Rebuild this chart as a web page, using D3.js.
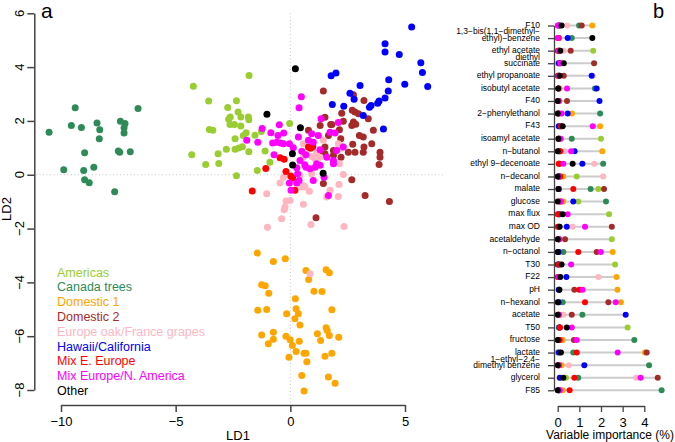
<!DOCTYPE html>
<html><head><meta charset="utf-8">
<script src="https://cdn.jsdelivr.net/npm/d3@7"></script>
<style>
body{margin:0;background:#fff;}
svg{display:block;font-family:"Liberation Sans",Arial,Helvetica,sans-serif;}
</style></head>
<body>
<svg id="chart" width="675" height="442"></svg>
<script>
// ---------- DATA ----------
const groups = ["Americas","Canada trees","Domestic 1","Domestic 2","Europe oak/France grapes","Hawaii/California","Mix E. Europe","Mix Europe/N. America","Other"];
const groupColors = ["#9ACD32","#2E8B57","#FFA500","#A52A2A","#FFB6C1","#0000FF","#FF0000","#FF00FF","#000000"];

const americas = [[-4.23,3.29],[-1.80,3.69],[-3.56,2.74],[-2.35,2.75],[-2.73,2.50],[-2.28,2.33],[-2.62,2.15],[-2.69,2.06],[-2.16,2.15],[-1.83,2.15],[-1.81,2.04],[-2.63,1.87],[-2.44,1.87],[-2.16,1.81],[-3.53,1.68],[-3.38,1.65],[-1.93,1.56],[-2.05,1.46],[-1.54,1.47],[-1.26,1.61],[-2.41,1.34],[-0.03,1.90],[-2.79,0.95],[-2.41,0.95],[-2.25,0.99],[-2.09,1.04],[-1.81,0.85],[-1.10,0.88],[-3.15,0.78],[-4.30,0.74],[-3.69,0.38],[-3.12,0.42],[-0.89,0.46],[-1.44,0.16],[-2.35,-0.04]];
const canada = [[-10.52,1.58],[-9.38,2.49],[-9.55,1.83],[-9.11,1.76],[-8.43,1.92],[-8.31,1.67],[-8.33,1.34],[-8.97,0.82],[-9.88,0.19],[-9.01,0.16],[-8.57,0.28],[-8.97,-0.19],[-8.77,-0.30],[-7.66,-0.63],[-7.41,1.99],[-7.21,1.90],[-7.25,1.75],[-7.25,1.55],[-7.50,0.88],[-7.44,0.84],[-6.98,0.85],[-6.64,2.46]];
const domestic1 = [[-1.44,-2.91],[-0.74,-3.22],[-0.22,-3.12],[0.68,-3.56],[0.80,-3.89],[-1.25,-4.09],[-1.10,-4.13],[-0.94,-4.40],[1.03,-4.33],[1.38,-4.34],[0.22,-4.61],[0.25,-4.98],[0.35,-5.17],[0.20,-5.35],[-0.16,-5.17],[-1.42,-5.04],[-1.03,-5.01],[0.42,-5.58],[-1.25,-5.96],[-0.74,-5.85],[-0.74,-6.11],[-0.96,-6.28],[-0.19,-6.00],[-0.01,-6.13],[0.09,-6.35],[0.39,-6.19],[0.25,-6.57],[0.60,-6.63],[0.68,-6.63],[0.72,-6.95],[-0.06,-6.78],[0.50,-7.46],[0.60,-8.04],[1.18,-5.91],[1.32,-6.16],[1.56,-5.69],[1.61,-5.79],[1.70,-5.97],[1.51,-6.75],[1.81,-6.63],[1.66,-7.52],[1.95,-7.75],[2.11,-6.04],[1.81,-5.02],[1.56,-3.53],[1.70,-3.64]];
const domestic2 = [[1.44,3.11],[2.75,2.97],[3.21,2.76],[2.24,2.29],[2.82,2.33],[2.97,2.27],[2.70,2.40],[2.31,1.99],[2.75,1.96],[2.68,1.83],[2.85,1.88],[3.40,2.08],[1.81,1.87],[0.79,1.65],[1.30,1.83],[3.62,1.65],[2.14,1.67],[3.01,1.46],[3.18,1.40],[2.20,1.34],[2.72,1.13],[3.21,1.03],[2.24,1.03],[1.88,0.72],[2.21,0.65],[2.53,0.84],[2.82,0.84],[3.18,0.84],[3.91,0.84],[3.91,0.65],[3.87,0.38],[1.51,0.78],[1.26,0.78],[2.68,-0.19],[1.44,-0.33],[3.26,-0.77],[4.32,-0.99],[1.12,-1.60],[1.51,2.14],[1.66,1.46],[1.51,1.03],[1.76,1.87],[3.55,1.15],[1.88,0.90]];
const europe = [[-1.03,-0.71],[-0.45,-0.31],[-0.19,-0.98],[-0.01,-0.96],[-0.27,-1.30],[-0.23,-1.20],[-0.38,-1.64],[0.57,-1.10],[0.90,-1.85],[-1.00,-1.95],[2.34,-1.92],[2.12,-0.36],[2.09,-0.81],[2.31,0.01],[0.83,-0.61],[0.64,-0.46],[0.50,-0.46],[-0.30,-0.09],[1.73,-0.58],[0.86,-3.68],[1.44,1.28],[0.93,0.68],[1.08,0.59],[1.30,0.65],[0.57,1.15],[1.15,0.84],[2.09,1.15],[0.57,-0.40],[1.59,-0.83],[2.14,0.41],[0.57,0.65],[0.93,0.04],[0.42,-0.03],[2.17,0.97]];
const hawaii = [[5.29,5.49],[4.13,4.87],[4.13,4.56],[4.75,4.47],[5.69,4.16],[5.76,3.80],[5.99,3.28],[4.29,3.53],[4.99,3.36],[4.27,3.11],[4.13,2.85],[3.87,2.74],[3.81,2.66],[3.52,2.57],[3.45,2.51],[3.04,3.32],[2.60,3.03],[2.78,2.81],[2.33,2.55],[1.83,2.61],[1.99,3.78],[1.78,3.68],[3.18,2.20],[4.06,1.70]];
const mixEEurope = [[-1.07,0.23],[-1.66,-0.60],[-0.45,0.63],[-0.27,0.58],[-0.19,0.12],[0.02,-0.05],[0.10,-0.12],[0.20,-0.58],[0.79,1.03],[0.98,1.05],[0.88,0.98]];
const mixEuropeNA = [[0.48,2.90],[0.38,2.49],[-1.23,1.72],[-1.90,1.28],[-1.42,1.21],[-0.85,1.56],[-0.48,1.86],[-0.29,1.55],[-0.54,1.46],[-0.77,1.18],[-0.42,1.18],[-0.04,1.15],[0.13,1.00],[0.35,1.40],[-0.71,0.74],[0.50,0.87],[0.68,0.74],[1.00,1.21],[1.34,2.08],[1.30,0.93],[0.63,0.37],[0.86,0.22],[1.15,0.41],[1.00,-0.21],[-0.04,-0.31],[0.03,-0.58],[0.38,-0.21],[1.66,-0.77],[1.88,0.41],[2.02,0.90],[1.95,1.55],[1.73,1.58],[2.09,1.94],[0.93,1.52],[1.22,1.46],[0.79,1.28],[1.59,0.65],[1.88,0.53],[1.30,0.35],[0.68,0.28],[1.08,0.28],[2.31,1.03],[0.32,0.04],[0.28,-0.31],[1.47,-0.09],[-0.59,1.21],[0.42,0.53],[0.28,0.26],[-0.30,1.15]];
const other = [[0.22,3.94],[-1.02,2.25],[0.44,1.75],[0.09,0.78],[0.10,0.36],[1.43,0.06]];
const scatterSeries = [americas,canada,domestic1,domestic2,europe,hawaii,mixEEurope,mixEuropeNA,other];

const ld1Ticks = [-10,-5,0,5];
const ld2Ticks = [-8,-6,-4,-2,0,2,4,6];

const variables = ["F10","1,3\u2212bis(1,1\u2212dimethyl\u2212\nethyl)\u2212benzene","ethyl acetate","diethyl\nsuccinate","ethyl propanoate","isobutyl acetate","F40","2\u2212phenylethanol","F43","isoamyl acetate","n\u2212butanol","ethyl 9\u2212decenoate","n\u2212decanol","malate","glucose","max flux","max OD","acetaldehyde","n\u2212octanol","T30","F22","pH","n\u2212hexanol","acetate","T50","fructose","lactate","1\u2212ethyl\u22122,4\u2212\ndimethyl benzene","glycerol","F85"];
// importance (%) per group, one value per variable (same order as variables)
const impAmericas  = [0.05,0.05,1.64,0.10,0.05,0.05,0.05,0.05,0.05,2.00,0.05,0.05,0.88,1.88,0.95,2.37,0.05,2.50,0.05,2.65,0.05,0.05,0.05,0.05,3.23,0.05,0.00,0.05,0.38,0.05];
const impCanada    = [0.99,0.65,0.08,0.05,0.05,1.72,0.05,1.96,0.10,0.65,0.05,2.10,0.05,1.52,2.23,0.05,0.05,0.05,0.26,0.05,0.05,0.05,0.23,1.14,0.05,3.54,0.72,4.22,0.95,4.80];
const impDomestic1 = [1.60,0.05,0.05,0.05,0.05,0.08,0.08,0.66,1.96,0.05,2.06,0.05,0.26,0.05,0.26,0.05,0.05,0.05,2.54,0.05,2.72,2.76,2.92,0.10,0.10,0.23,4.03,0.18,0.08,0.23];
const impDomestic2 = [1.11,0.05,0.60,1.68,0.28,0.05,0.43,0.05,0.15,0.08,0.10,0.10,0.10,2.14,0.10,0.10,2.50,0.34,1.80,0.05,0.05,0.77,2.34,0.65,0.10,0.75,4.11,0.05,4.62,0.05];
const impEurope    = [0.43,0.03,0.27,0.00,1.62,0.05,0.05,0.10,0.08,0.05,0.32,1.69,2.10,0.05,0.10,0.05,0.69,0.05,0.05,0.05,1.88,1.05,0.05,0.26,0.10,0.10,0.10,0.51,3.62,0.10];
const impHawaii    = [0.08,0.46,0.05,0.05,1.57,1.80,1.93,0.46,0.05,0.05,0.78,1.14,0.05,0.05,0.72,0.05,0.42,0.05,0.05,0.00,0.40,0.05,0.05,3.14,0.08,0.05,0.05,1.23,0.10,0.05];
const impMixE      = [0.05,0.03,0.00,0.15,0.00,0.03,0.03,0.03,0.15,0.05,0.12,0.05,0.12,0.72,0.12,0.00,0.00,0.05,0.95,0.05,0.00,1.00,1.26,0.05,0.10,0.10,0.88,0.05,0.77,0.55];
const impMixNA     = [0.00,0.00,0.05,0.11,0.05,0.43,0.05,0.18,1.62,0.14,0.62,0.26,0.05,0.05,0.15,0.46,1.26,0.05,1.99,0.62,0.05,1.15,2.68,0.05,0.65,0.88,2.77,0.05,3.83,0.10];
const impOther     = [0.18,1.60,0.12,0.28,0.09,0.02,0.00,0.00,0.23,0.03,0.00,0.69,0.00,0.03,0.00,0.23,0.09,0.00,0.00,0.18,0.12,0.08,0.00,0.00,0.42,0.00,0.15,0.00,0.26,0.00];
const importanceSeries = [impAmericas,impCanada,impDomestic1,impDomestic2,impEurope,impHawaii,impMixE,impMixNA,impOther];
const impTicks = [0,1,2,3,4];

// ---------- DRAW ----------
const svg = d3.select("#chart");
const axisCol = "#444";

// Panel a
const x = d3.scaleLinear().domain([-10,5]).range([61,405]);
const y = d3.scaleLinear().domain([-8,6]).range([390,13.3]);

// reference lines
svg.append("line").attr("x1",36).attr("x2",443).attr("y1",y(0)).attr("y2",y(0))
  .attr("stroke","#c8c8c8").attr("stroke-width",1).attr("stroke-dasharray","1,2.5");
svg.append("line").attr("x1",x(0)).attr("x2",x(0)).attr("y1",13).attr("y2",403)
  .attr("stroke","#c8c8c8").attr("stroke-width",1).attr("stroke-dasharray","1,2.5");

// points
scatterSeries.forEach((pts,gi)=>{
  svg.append("g").selectAll("circle").data(pts).join("circle")
    .attr("cx",d=>x(d[0])).attr("cy",d=>y(d[1])).attr("r",3.5)
    .attr("fill",groupColors[gi]);
});

// x axis
const gx = svg.append("g").attr("transform","translate(0,405)")
  .call(d3.axisBottom(x).tickValues(ld1Ticks).tickSize(7).tickSizeOuter(0).tickPadding(5));
gx.select(".domain").attr("stroke",axisCol).attr("stroke-width",1.5);
gx.selectAll(".tick line").attr("stroke",axisCol).attr("stroke-width",1.5);
gx.selectAll(".tick text").attr("font-size",13).attr("fill","#000").attr("font-family",null);

// y axis
const gy = svg.append("g").attr("transform","translate(34.3,0)")
  .call(d3.axisLeft(y).tickValues(ld2Ticks).tickSize(7).tickSizeOuter(0).tickFormat(""));
gy.select(".domain").attr("stroke",axisCol).attr("stroke-width",1.5);
gy.selectAll(".tick line").attr("stroke",axisCol).attr("stroke-width",1.5);
const fmt = d3.format("d");
svg.append("g").selectAll("text").data(ld2Ticks).join("text")
  .attr("transform",d=>`translate(24,${y(d)}) rotate(-90)`)
  .attr("text-anchor","middle").attr("font-size",13).text(d=>fmt(d));

svg.append("text").attr("x",238).attr("y",440).attr("text-anchor","middle").attr("font-size",13).text("LD1");
svg.append("text").attr("transform","translate(11,209) rotate(-90)").attr("text-anchor","middle").attr("font-size",13).text("LD2");
svg.append("text").attr("x",41).attr("y",18).attr("font-size",21).text("a");

// legend
svg.append("g").selectAll("text").data(groups).join("text")
  .attr("x",57).attr("y",(d,i)=>276.7+i*14.79).attr("font-size",12.5)
  .attr("fill",(d,i)=>groupColors[i]).text(d=>d);

// Panel b
const xb = d3.scaleLinear().domain([0,4]).range([557.7,644.3]);
const yb = d3.scalePoint().domain(variables).range([25.5,390.3]);

variables.forEach((v,i)=>{
  const vals = importanceSeries.map(s=>s[i]);
  svg.append("line").attr("x1",xb(d3.min(vals))).attr("x2",xb(d3.max(vals)))
    .attr("y1",yb(v)).attr("y2",yb(v)).attr("stroke","#cccccc").attr("stroke-width",2);
});
importanceSeries.forEach((s,gi)=>{
  svg.append("g").selectAll("circle").data(s).join("circle")
    .attr("cx",d=>xb(d)).attr("cy",(d,i)=>yb(variables[i])).attr("r",3)
    .attr("fill",groupColors[gi]);
});

const gyb = svg.append("g").attr("transform","translate(554,0)")
  .call(d3.axisLeft(yb).tickSize(6).tickSizeOuter(0).tickFormat(""));
gyb.select(".domain").attr("stroke",axisCol).attr("stroke-width",1.3);
gyb.selectAll(".tick line").attr("stroke",axisCol).attr("stroke-width",1.3);

const lab = svg.append("g").attr("font-size",8.5).attr("text-anchor","end");
variables.forEach(v=>{
  const lines = v.split("\n");
  const yy = yb(v);
  if(lines.length===1){
    lab.append("text").attr("x",540).attr("y",yy+2.3).text(lines[0]);
  } else {
    lab.append("text").attr("x",540).attr("y",yy-3.6).text(lines[0]);
    lab.append("text").attr("x",540).attr("y",yy+2.5).text(lines[1]);
  }
});

const gxb = svg.append("g").attr("transform","translate(0,406)")
  .call(d3.axisBottom(xb).tickValues(impTicks).tickFormat(d3.format("d")).tickSize(6).tickSizeOuter(0).tickPadding(5.5));
gxb.select(".domain").attr("stroke",axisCol).attr("stroke-width",1.3);
gxb.selectAll(".tick line").attr("stroke",axisCol).attr("stroke-width",1.3);
gxb.selectAll(".tick text").attr("font-size",13).attr("fill","#000").attr("font-family",null);

svg.append("text").attr("x",610).attr("y",438.5).attr("text-anchor","middle").attr("font-size",12).text("Variable importance (%)");
svg.append("text").attr("x",653).attr("y",18).attr("font-size",20).text("b");
</script>
</body></html>
